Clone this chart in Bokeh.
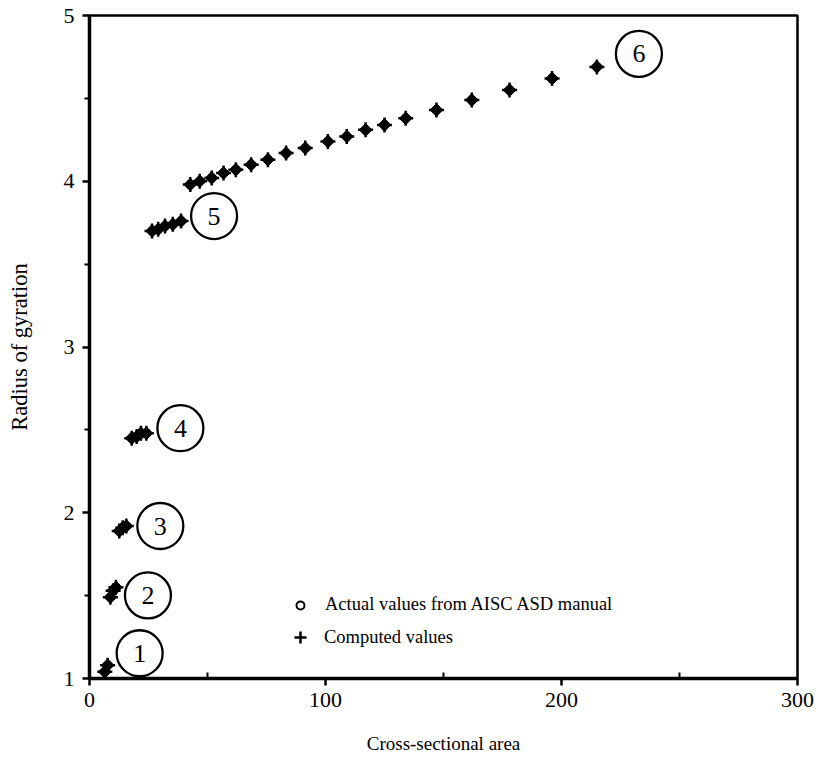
from bokeh.plotting import figure
from bokeh.models import Range1d, FixedTicker, Legend, LegendItem, ColumnDataSource
from bokeh.core.properties import value
from bokeh.embed import file_html
from bokeh.resources import INLINE

# ---- data (W14 sections) ----
group = [1, 1,
         2, 2, 2,
         3, 3, 3,
         4, 4, 4, 4,
         5, 5, 5, 5, 5,
         6, 6, 6, 6, 6, 6, 6, 6, 6, 6, 6, 6, 6, 6, 6, 6, 6, 6, 6]
area = [6.49, 7.69,
        8.85, 10.0, 11.2,
        12.6, 14.1, 15.6,
        17.9, 20.0, 21.8, 24.1,
        26.5, 29.1, 32.0, 35.3, 38.8,
        42.7, 46.7, 51.8, 56.8, 62.0, 68.5, 75.6, 83.3, 91.4, 101.0,
        109.0, 117.0, 125.0, 134.0, 147.0, 162.0, 178.0, 196.0, 215.0]
r_actual = [1.04, 1.08,
            1.49, 1.53, 1.55,
            1.89, 1.91, 1.92,
            2.45, 2.46, 2.48, 2.48,
            3.70, 3.71, 3.73, 3.74, 3.76,
            3.98, 4.00, 4.02, 4.05, 4.07, 4.10, 4.13, 4.17, 4.20, 4.24,
            4.27, 4.31, 4.34, 4.38, 4.43, 4.49, 4.55, 4.62, 4.69]
r_computed = list(r_actual)
group_labels = ["1", "2", "3", "4", "5", "6"]
x_ticks = [0, 100, 200, 300]
y_ticks = [1, 2, 3, 4, 5]

# ---- layout ----
W, H = 818, 762
ML, MR, MT, MB = 89, 21, 15, 84
FW, FH = W - ML - MR, H - MT - MB
XMIN, XMAX, YMIN, YMAX = 0, 300, 1, 5
sx = FW / (XMAX - XMIN)
sy = FH / (YMAX - YMIN)
SERIF = "Liberation Serif"

p = figure(width=W, height=H, x_range=Range1d(XMIN, XMAX), y_range=Range1d(YMIN, YMAX),
           output_backend="svg", toolbar_location=None,
           min_border_left=ML, min_border_right=MR, min_border_top=MT, min_border_bottom=MB)
p.grid.visible = False
p.background_fill_color = "white"
p.border_fill_color = "white"
p.outline_line_color = "black"
p.outline_line_width = 2.5

p.xaxis.ticker = FixedTicker(ticks=x_ticks, minor_ticks=[50, 150, 250])
p.yaxis.ticker = FixedTicker(ticks=y_ticks, minor_ticks=[1.5, 2.5, 3.5, 4.5])
for ax in (p.xaxis[0], p.yaxis[0]):
    ax.axis_line_color = "black"
    ax.axis_line_width = 3.5
    ax.major_tick_line_color = "black"
    ax.major_tick_line_width = 2.5
    ax.minor_tick_line_color = "black"
    ax.minor_tick_line_width = 2
    ax.major_tick_out = 7
    ax.major_tick_in = 0
    ax.major_label_text_font = SERIF
    ax.major_label_text_font_size = "22px"
    ax.major_label_text_color = "black"
    ax.axis_label_text_font = SERIF
    ax.axis_label_text_font_style = "normal"
    ax.axis_label_text_color = "black"

p.xaxis.minor_tick_in = 6
p.xaxis.minor_tick_out = 0
p.yaxis.minor_tick_in = 0
p.yaxis.minor_tick_out = 5
p.xaxis.major_label_standoff = 7
p.yaxis.major_label_standoff = 8
p.xaxis.axis_label = "Cross-sectional area"
p.yaxis.axis_label = "Radius of gyration"
p.xaxis.axis_label_text_font_size = "19px"
p.yaxis.axis_label_text_font_size = "22.5px"
p.xaxis.axis_label_standoff = 23
p.yaxis.axis_label_standoff = 29

src = ColumnDataSource(dict(area=area, ra=r_actual, rc=r_computed))
# filler shape so the overlapping o and + read like the scanned markers
p.scatter("area", "rc", source=src, marker="square", angle=0.785398, size=9,
          fill_color="black", line_color="black", line_width=1)
r_act = p.scatter("area", "ra", source=src, marker="circle", size=7,
                  fill_color=None, line_color="black", line_width=2)
r_cmp = p.scatter("area", "rc", source=src, marker="cross", size=15,
                  line_color="black", line_width=2.5)

# circled group numbers, offset (px right, px up) from each group's last point
offsets = [(32, 12), (32, -8), (34, 0), (34, 5), (33, 5), (42, 13)]
lx, ly = [], []
for g, (dx, dy) in zip(range(1, 7), offsets):
    idx = max(i for i, gg in enumerate(group) if gg == g)
    lx.append(area[idx] + dx / sx)
    ly.append(r_computed[idx] + dy / sy)
lsrc = ColumnDataSource(dict(x=lx, y=ly, t=group_labels))
p.scatter("x", "y", source=lsrc, marker="circle", size=46, fill_color=None,
          line_color="black", line_width=2.3)
p.text("x", "y", text="t", source=lsrc, text_align="center", text_baseline="middle",
       text_font=value(SERIF), text_font_size="26px", text_color="black")

leg1 = Legend(items=[LegendItem(label="Actual values from AISC ASD manual", renderers=[r_act])],
              location=(201, 63), glyph_width=20, glyph_height=20, label_standoff=15,
              padding=0, margin=0, border_line_color=None, background_fill_alpha=0,
              label_text_font=SERIF, label_text_font_size="18.5px", label_text_color="black")
leg2 = Legend(items=[LegendItem(label="Computed values", renderers=[r_cmp])],
              location=(196, 26), glyph_width=30, glyph_height=30, label_standoff=9,
              padding=0, margin=0, border_line_color=None, background_fill_alpha=0,
              label_text_font=SERIF, label_text_font_size="18.5px", label_text_color="black")
p.add_layout(leg1)
p.add_layout(leg2)

open("out.html", "w").write(file_html(p, INLINE))
